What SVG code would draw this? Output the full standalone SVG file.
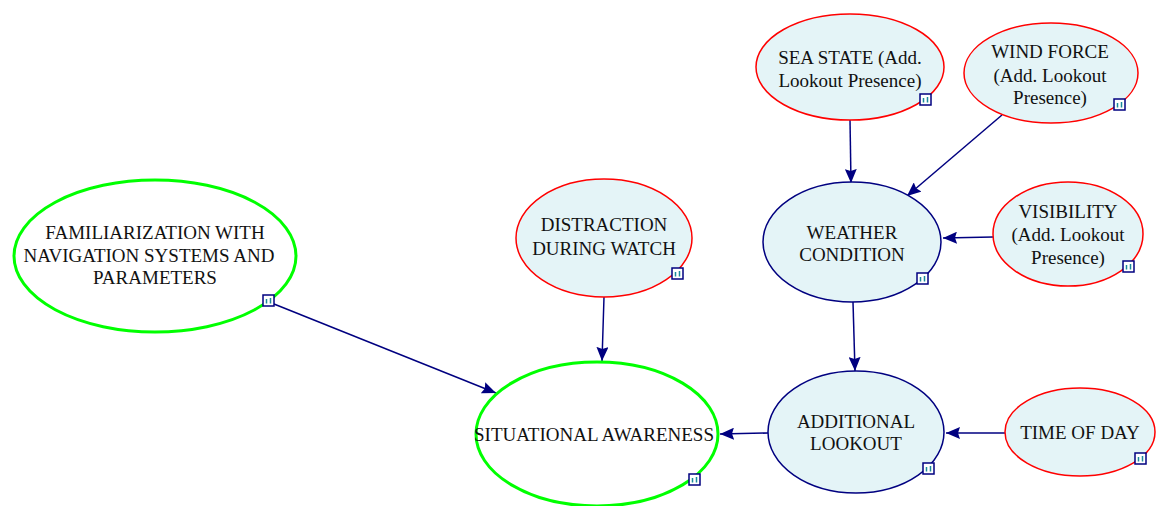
<svg xmlns="http://www.w3.org/2000/svg" width="1156" height="506" viewBox="0 0 1156 506">
  <style>
    .chance ellipse { fill: #e4f4f7; stroke: #ff0000; stroke-width: 1.5; }
    .inter ellipse { fill: #e4f4f7; stroke: #000080; stroke-width: 1.5; }
    .target ellipse { fill: #ffffff; stroke: #00ff00; stroke-width: 3; }
    text { font-family: "Liberation Serif", "Times New Roman", serif; font-size: 19px; fill: #111111; text-anchor: middle; }
    .edge { stroke: #000080; stroke-width: 1.5; fill: none; marker-end: url(#arrow); }
    .icon rect { fill: #ffffff; stroke: #000080; stroke-width: 1.5; }
    .icon path { fill: none; stroke: #1a8a9a; stroke-width: 1.5; }
  </style>
  <defs>
    <marker id="arrow" viewBox="0 0 14 12" refX="14" refY="6" markerWidth="14" markerHeight="12" markerUnits="userSpaceOnUse" orient="auto">
      <path d="M0,0 L14,6 L0,12 L2,6 z" fill="#000080"/>
    </marker>
    <g id="ico" class="icon">
      <rect x="0" y="0" width="11" height="11"/>
      <path d="M3.5,8.5 V4 M7.5,8.5 V3"/>
    </g>
  </defs>
  <rect width="1156" height="506" fill="#ffffff"/>

  <!-- connectors -->
  <g id="edges">
    <line class="edge" x1="850" y1="120" x2="851" y2="183"/>
    <line class="edge" x1="1002" y1="115" x2="907" y2="196"/>
    <line class="edge" x1="993" y1="237" x2="943" y2="238"/>
    <line class="edge" x1="853" y1="302" x2="855" y2="371"/>
    <line class="edge" x1="1005" y1="433" x2="946" y2="433"/>
    <line class="edge" x1="768" y1="433" x2="720" y2="434"/>
    <line class="edge" x1="604" y1="297" x2="602" y2="361"/>
    <line class="edge" x1="274" y1="304" x2="496" y2="393"/>
  </g>

  <g id="sea-state" class="chance">
    <ellipse cx="850" cy="67" rx="94" ry="53"/>
    <text x="850" y="64">SEA STATE (Add.</text>
    <text x="850" y="87">Lookout Presence)</text>
    <use href="#ico" x="920" y="94"/>
  </g>

  <g id="wind-force" class="chance">
    <ellipse cx="1051" cy="73" rx="87" ry="50"/>
    <text x="1050" y="58">WIND FORCE</text>
    <text x="1050" y="82">(Add. Lookout</text>
    <text x="1050" y="104">Presence)</text>
    <use href="#ico" x="1114" y="99"/>
  </g>

  <g id="weather-condition" class="inter">
    <ellipse cx="852" cy="242" rx="89" ry="60"/>
    <text x="852" y="239">WEATHER</text>
    <text x="852" y="261">CONDITION</text>
    <use href="#ico" x="917" y="273"/>
  </g>

  <g id="visibility" class="chance">
    <ellipse cx="1068" cy="234" rx="75" ry="52"/>
    <text x="1068" y="218">VISIBILITY</text>
    <text x="1068" y="241">(Add. Lookout</text>
    <text x="1068" y="264">Presence)</text>
    <use href="#ico" x="1123" y="261"/>
  </g>

  <g id="additional-lookout" class="inter">
    <ellipse cx="856" cy="432" rx="88" ry="61"/>
    <text x="856" y="428">ADDITIONAL</text>
    <text x="856" y="450">LOOKOUT</text>
    <use href="#ico" x="923" y="463"/>
  </g>

  <g id="time-of-day" class="chance">
    <ellipse cx="1080" cy="432" rx="75" ry="44"/>
    <text x="1080" y="439">TIME OF DAY</text>
    <use href="#ico" x="1135" y="453"/>
  </g>

  <g id="familiarization" class="target">
    <ellipse cx="155" cy="256" rx="141" ry="76"/>
    <text x="155" y="239">FAMILIARIZATION WITH</text>
    <text x="149" y="262">NAVIGATION SYSTEMS AND</text>
    <text x="155" y="284">PARAMETERS</text>
    <use href="#ico" x="263" y="295"/>
  </g>

  <g id="distraction" class="chance">
    <ellipse cx="604" cy="238" rx="88" ry="59"/>
    <text x="604" y="231">DISTRACTION</text>
    <text x="604" y="255">DURING WATCH</text>
    <use href="#ico" x="672" y="268"/>
  </g>

  <g id="situational-awareness" class="target">
    <ellipse cx="597" cy="434" rx="121" ry="72"/>
    <text x="594" y="441">SITUATIONAL AWARENESS</text>
    <use href="#ico" x="689" y="474"/>
  </g>
</svg>
